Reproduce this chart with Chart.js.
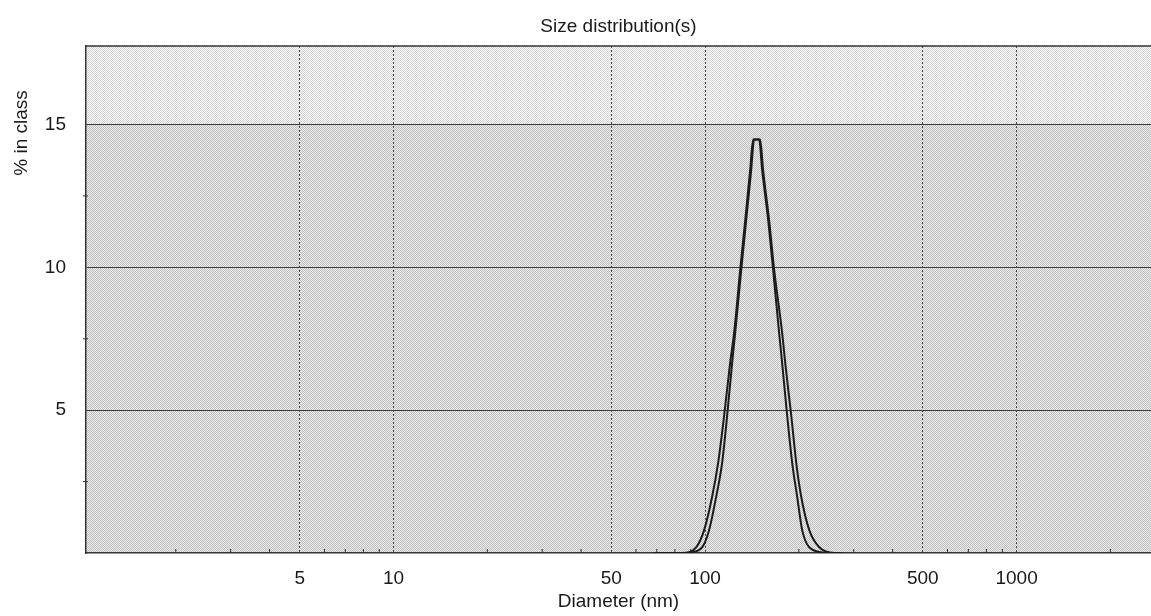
<!DOCTYPE html>
<html>
<head>
<meta charset="utf-8">
<title>Size distribution(s)</title>
<script src="https://cdn.jsdelivr.net/npm/chart.js@4.4.1/dist/chart.umd.min.js"></script>
<style>
  html, body { margin: 0; padding: 0; background: #fff; }
  #wrap { width: 1151px; height: 616px; position: relative; }
</style>
</head>
<body>
<div id="wrap"><canvas id="sizeChart"></canvas></div>
<script>
// run 1: diameter (nm) and % in class
const diamA = [68.5, 84.3, 93.6, 99.3, 105.3, 110.1, 115.1, 120.3, 123.9, 129.6, 134.5, 139.5, 142.7,
               150.2, 153.6, 160.6, 166.7, 176.8, 180.9, 189.1, 196.2, 203.6, 216.0, 232.6, 259.9, 276];
const pctA  = [0, 0, 0.2, 0.8, 1.96, 3.15, 4.8, 6.64, 7.7, 9.9, 11.64, 13.4, 14.48,
               14.48, 13.4, 11.64, 9.9, 7.7, 6.64, 4.8, 3.15, 1.96, 0.8, 0.2, 0, 0];

// run 2
const diamB = [88.8, 97.8, 103.0, 108.5, 113.4, 117.7, 122.1, 124.9, 130.6, 135.5, 140.6, 143.7,
               149.1, 152.5, 159.5, 165.4, 172.9, 176.8, 183.5, 190.4, 197.6, 205.0, 216.0, 243.2];
const pctB  = [0, 0.2, 0.8, 1.96, 3.15, 4.8, 6.64, 7.7, 9.9, 11.64, 13.4, 14.48,
               14.48, 13.4, 11.64, 9.9, 7.7, 6.64, 4.8, 3.15, 1.96, 0.8, 0.2, 0];

const xTicks = [5, 10, 50, 100, 500, 1000];
const xMinor = [2, 3, 4, 6, 7, 8, 9, 20, 30, 40, 60, 70, 80, 90, 200, 300, 400, 600, 700, 800, 900, 2000];
const yTicks = [5, 10, 15];
const yMinor = [2.5, 7.5, 12.5];

const FONT = { family: '"Liberation Sans", Arial, sans-serif', size: 19 };
const INK = '#1a1a1a';

// halftone-like screen used as the plot background
function screen(dark, light) {
  const c = document.createElement('canvas');
  c.width = 2; c.height = 2;
  const g = c.getContext('2d');
  g.fillStyle = light; g.fillRect(0, 0, 2, 2);
  g.fillStyle = dark; g.fillRect(0, 0, 1, 1); g.fillRect(1, 1, 1, 1);
  return g.createPattern(c, 'repeat');
}

const paper = {
  id: 'paper',
  beforeDraw(chart) {
    const { ctx, chartArea: a, scales } = chart;
    const y15 = scales.y.getPixelForValue(15);
    ctx.save();
    ctx.fillStyle = screen('#d6d6d6', '#f7f7f7');
    ctx.fillRect(a.left, a.top, a.width, y15 - a.top);
    ctx.fillStyle = screen('#c0c0c0', '#ebebeb');
    ctx.fillRect(a.left, y15, a.width, a.bottom - y15);
    ctx.restore();
  },
  beforeDatasetsDraw(chart) {
    const { ctx, chartArea: a, scales } = chart;
    ctx.save();
    ctx.strokeStyle = '#333';
    ctx.lineWidth = 1.5;
    ctx.beginPath();
    ctx.moveTo(a.left, a.top);
    ctx.lineTo(a.right, a.top);
    ctx.stroke();
    // small minor ticks on both axes
    ctx.lineWidth = 1;
    ctx.beginPath();
    xMinor.forEach(v => {
      const x = scales.x.getPixelForValue(v);
      ctx.moveTo(x, a.bottom);
      ctx.lineTo(x, a.bottom - 4);
    });
    yMinor.forEach(v => {
      const y = scales.y.getPixelForValue(v);
      ctx.moveTo(a.left - 3, y);
      ctx.lineTo(a.left + 2, y);
    });
    ctx.stroke();
    // y axis title sits high on the axis
    ctx.translate(22, 133);
    ctx.rotate(-Math.PI / 2);
    ctx.fillStyle = INK;
    ctx.font = `${FONT.size}px ${FONT.family}`;
    ctx.textAlign = 'center';
    ctx.textBaseline = 'middle';
    ctx.fillText('% in class', 0, 0);
    ctx.restore();
  }
};

const toPoints = (xs, ys) => xs.map((d, i) => ({ x: d, y: ys[i] }));

const lineStyle = {
  borderColor: '#1c1c1c',
  borderWidth: 2,
  pointRadius: 0,
  fill: false,
  cubicInterpolationMode: 'monotone'
};

new Chart(document.getElementById('sizeChart'), {
  type: 'line',
  data: {
    datasets: [
      { label: 'run 1', data: toPoints(diamA, pctA), ...lineStyle },
      { label: 'run 2', data: toPoints(diamB, pctB), ...lineStyle }
    ]
  },
  options: {
    responsive: true,
    maintainAspectRatio: false,
    animation: false,
    layout: { padding: 0 },
    scales: {
      x: {
        type: 'logarithmic',
        min: 1.03,
        max: 2700,
        afterBuildTicks: s => { s.ticks = xTicks.map(v => ({ value: v })); },
        afterFit: s => { s.height = 63; },
        ticks: {
          autoSkip: false,
          maxRotation: 0,
          padding: 14,
          color: INK,
          font: FONT,
          callback: v => String(v)
        },
        grid: { color: '#4a4a4a', lineWidth: 1, drawTicks: false },
        border: { display: true, color: '#333', width: 1.5, dash: [2, 2] },
        title: {
          display: true,
          text: 'Diameter (nm)',
          color: INK,
          font: FONT,
          padding: { top: 0, bottom: 2.6 }
        }
      },
      y: {
        min: 0,
        max: 17.75,
        afterBuildTicks: s => { s.ticks = yTicks.map(v => ({ value: v })); },
        afterFit: s => { s.width = 86; },
        ticks: { padding: 20, color: INK, font: FONT },
        grid: { color: '#3c3c3c', lineWidth: 1, drawTicks: false },
        border: { display: true, color: '#333', width: 1.5 }
      }
    },
    plugins: {
      legend: { display: false },
      tooltip: { enabled: false },
      title: {
        display: true,
        fullSize: false,
        text: 'Size distribution(s)',
        color: INK,
        font: { ...FONT, weight: 'normal' },
        padding: { top: 15, bottom: 8.2 }
      }
    }
  },
  plugins: [paper]
});
</script>
</body>
</html>
